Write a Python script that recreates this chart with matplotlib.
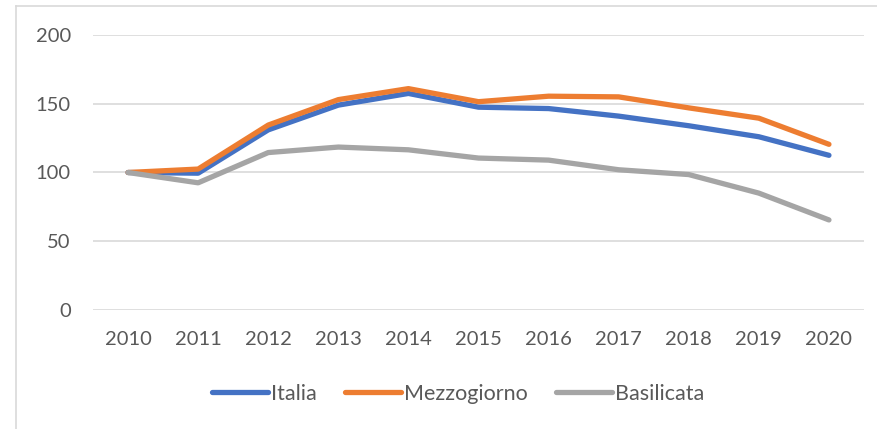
import matplotlib
matplotlib.use("Agg")
import matplotlib.pyplot as plt
from matplotlib.lines import Line2D

years = ["2010", "2011", "2012", "2013", "2014", "2015", "2016", "2017", "2018", "2019", "2020"]
italia = [100, 99.5, 131, 149, 157.5, 147.5, 146.5, 141, 134, 126, 112.5]
mezzogiorno = [100, 102.5, 134.5, 153, 161, 151.5, 155.5, 155, 147, 139.5, 120.5]
basilicata = [100, 92.5, 114.5, 118.5, 116.5, 110.5, 109, 102, 98.5, 85, 65.5]
series_names = ["Italia", "Mezzogiorno", "Basilicata"]
yticks = [0, 50, 100, 150, 200]

colors = ["#4472C4", "#ED7D31", "#A5A5A5"]
text_color = "#595959"
grid_color = "#D9D9D9"

plt.rcParams['font.family'] = ['Lato', 'DejaVu Sans']

W, H = 877, 429
fig = plt.figure(figsize=(W / 100, H / 100), dpi=100)
ax = fig.add_axes([93 / W, 1 - 310 / H, (864 - 93) / W, (310 - 35) / H])

x = list(range(len(years)))
for vals, name, c in zip([italia, mezzogiorno, basilicata], series_names, colors):
    ax.plot(x, vals, color=c, lw=3.8, solid_capstyle='round', solid_joinstyle='round', label=name)

ax.set_xlim(-0.5, len(years) - 0.5)
ax.set_ylim(0, 200)
ax.set_yticks(yticks)
ax.set_xticks(x)
ax.set_xticklabels(years)
ax.yaxis.grid(True, color=grid_color, lw=1.2)
ax.set_axisbelow(True)
for s in ax.spines.values():
    s.set_visible(False)
ax.tick_params(axis='both', length=0, labelsize=14.5, labelcolor=text_color)
ax.tick_params(axis='y', pad=16)
ax.tick_params(axis='x', pad=15)

handles = [Line2D([0], [0], color=c, lw=3.8, solid_capstyle='round') for c in colors]
fig.legend(handles, series_names, loc='center', bbox_to_anchor=(458 / W, 1 - 394 / H),
           ncol=3, frameon=False, fontsize=15.5, labelcolor=text_color,
           handlelength=2.6, handletextpad=0.15, columnspacing=1.3)

# chart border (left and top edges visible)
fig.add_artist(Line2D([16 / W, 16 / W], [0, 1 - 6 / H], transform=fig.transFigure, color=grid_color, lw=1.2))
fig.add_artist(Line2D([16 / W, 1], [1 - 6 / H, 1 - 6 / H], transform=fig.transFigure, color=grid_color, lw=1.2))

fig.savefig("out.png", dpi=100)
